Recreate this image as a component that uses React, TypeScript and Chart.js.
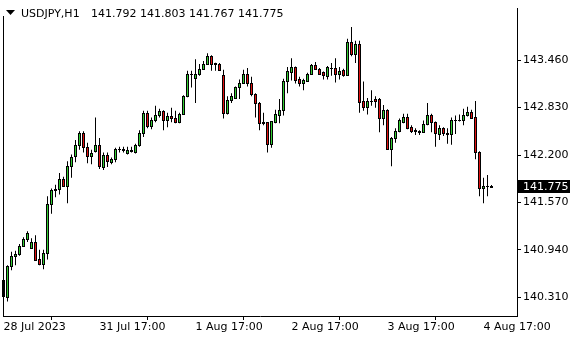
import React, { useEffect, useRef } from 'react';
import { Chart, registerables } from 'chart.js';

Chart.register(...registerables);

const symbol = 'USDJPY,H1';

const opens = [
  140.542, 140.310, 140.723, 140.865, 140.891, 140.994, 141.084, 140.968, 141.046, 140.826,
  140.749, 140.904, 141.549, 141.730, 141.743, 141.885, 141.794, 142.053, 142.182, 142.337,
  142.492, 142.311, 142.182, 142.259, 142.337, 142.040, 142.195, 142.104, 142.143, 142.282,
  142.272, 142.233, 142.259, 142.246, 142.337, 142.492, 142.763, 142.582, 142.672, 142.737,
  142.788, 142.659, 142.724, 142.698, 142.634, 142.750, 142.982, 143.279, 143.227, 143.279,
  143.344, 143.408, 143.511, 143.421, 143.408, 143.266, 142.763, 142.930, 142.956, 143.098,
  143.163, 143.279, 143.150, 143.008, 142.892, 142.634, 142.634, 142.350, 142.634, 142.737,
  142.801, 143.189, 143.305, 143.369, 143.214, 143.163, 143.189, 143.279, 143.395, 143.344,
  143.305, 143.253, 143.356, 143.356, 143.279, 143.331, 143.266, 143.705, 143.537, 143.679,
  142.918, 142.840, 142.918, 142.943, 142.943, 142.698, 142.801, 142.285, 142.427, 142.517,
  142.634, 142.711, 142.569, 142.530, 142.517, 142.504, 142.608, 142.737, 142.634, 142.479,
  142.556, 142.492, 142.479, 142.659, 142.672, 142.659, 142.737, 142.776, 142.711, 142.246,
  141.769, 141.794, 141.792,
];

const highs = [
  140.555, 140.736, 140.916, 140.929, 141.020, 141.110, 141.188, 141.097, 141.136, 140.942,
  140.942, 141.652, 141.756, 141.807, 141.962, 141.911, 142.117, 142.207, 142.401, 142.517,
  142.517, 142.362, 142.272, 142.698, 142.427, 142.233, 142.233, 142.169, 142.298, 142.311,
  142.311, 142.311, 142.311, 142.350, 142.530, 142.788, 142.788, 142.698, 142.853, 142.814,
  142.795, 142.763, 142.827, 142.788, 142.763, 142.995, 143.318, 143.318, 143.473, 143.408,
  143.447, 143.550, 143.524, 143.425, 143.421, 143.331, 142.982, 143.021, 143.111, 143.202,
  143.331, 143.356, 143.240, 143.021, 142.905, 142.763, 142.640, 142.652, 142.801, 142.943,
  143.214, 143.369, 143.486, 143.375, 143.240, 143.214, 143.292, 143.408, 143.434, 143.356,
  143.310, 143.382, 143.421, 143.486, 143.369, 143.344, 143.744, 143.899, 143.718, 143.718,
  143.176, 142.956, 143.060, 142.982, 142.956, 142.866, 142.808, 142.440, 142.556, 142.685,
  142.750, 142.750, 142.595, 142.556, 142.530, 142.659, 142.892, 142.750, 142.646, 142.595,
  142.569, 142.556, 142.698, 142.724, 142.737, 142.814, 142.840, 142.801, 142.918, 142.250,
  141.898, 141.936, 141.803,
];

const lows = [
  140.168, 140.258, 140.671, 140.736, 140.865, 140.981, 141.046, 140.955, 140.800, 140.736,
  140.684, 140.813, 141.420, 141.639, 141.678, 141.781, 141.562, 141.898, 142.104, 142.272,
  142.233, 142.091, 142.078, 142.233, 142.014, 142.001, 142.040, 142.078, 142.104, 142.233,
  142.233, 142.207, 142.233, 142.220, 142.311, 142.440, 142.556, 142.543, 142.634, 142.698,
  142.530, 142.569, 142.634, 142.621, 142.621, 142.737, 142.969, 143.098, 142.892, 143.253,
  143.331, 143.395, 143.318, 143.318, 143.325, 142.685, 142.737, 142.892, 142.950, 142.943,
  143.150, 143.111, 142.982, 142.698, 142.530, 142.595, 142.233, 142.298, 142.621, 142.621,
  142.724, 143.021, 143.189, 143.150, 143.111, 143.060, 143.176, 143.266, 143.331, 143.266,
  143.202, 143.202, 143.253, 143.163, 143.202, 143.240, 143.253, 143.511, 143.421, 142.763,
  142.788, 142.737, 142.853, 142.827, 142.504, 142.595, 142.272, 142.053, 142.362, 142.504,
  142.621, 142.543, 142.492, 142.466, 142.466, 142.492, 142.595, 142.504, 142.311, 142.401,
  142.453, 142.350, 142.337, 142.479, 142.646, 142.595, 142.711, 142.685, 142.143, 141.652,
  141.562, 141.652, 141.767,
];

const closes = [
  140.323, 140.723, 140.865, 140.891, 140.994, 141.084, 141.162, 141.046, 140.813, 140.749,
  140.904, 141.549, 141.730, 141.743, 141.885, 141.794, 142.053, 142.169, 142.337, 142.492,
  142.311, 142.182, 142.233, 142.337, 142.053, 142.195, 142.117, 142.143, 142.285, 142.287,
  142.275, 142.272, 142.272, 142.337, 142.492, 142.763, 142.582, 142.672, 142.737, 142.788,
  142.659, 142.724, 142.698, 142.634, 142.750, 142.982, 143.279, 143.272, 143.279, 143.344,
  143.408, 143.511, 143.408, 143.408, 143.331, 142.763, 142.930, 142.982, 143.098, 143.163,
  143.279, 143.150, 143.008, 142.892, 142.621, 142.621, 142.350, 142.646, 142.750, 142.801,
  143.189, 143.318, 143.369, 143.202, 143.163, 143.202, 143.279, 143.395, 143.344, 143.279,
  143.266, 143.369, 143.352, 143.279, 143.318, 143.266, 143.705, 143.537, 143.679, 142.905,
  142.840, 142.918, 142.922, 142.918, 142.698, 142.801, 142.285, 142.427, 142.517, 142.659,
  142.711, 142.556, 142.517, 142.520, 142.504, 142.608, 142.737, 142.634, 142.492, 142.556,
  142.492, 142.479, 142.659, 142.662, 142.659, 142.737, 142.776, 142.698, 142.246, 141.769,
  141.794, 141.792, 141.775,
];

const priceTicks = [140.31, 140.94, 141.57, 142.2, 142.83, 143.46];
const timeTickBars = [0, 24, 48, 72, 96, 120];
const timeTickLabels = ['28 Jul 2023', '31 Jul 17:00', '1 Aug 17:00', '2 Aug 17:00', '3 Aug 17:00', '4 Aug 17:00'];

const UP = '#32cd32';
const DOWN = '#e01010';
const FONT = '"DejaVu Sans", Verdana, sans-serif';

export default function App() {
  const ref = useRef<HTMLCanvasElement | null>(null);

  useEffect(() => {
    document.body.style.margin = '0';
    const canvas = ref.current;
    if (!canvas) return;
    const idx = closes.map((_, i) => i);
    const wickData = idx.map((i) => ({ x: i, y: [lows[i], highs[i]] }));
    const last = closes.length - 1;

    // candle bodies, placed with the chart's own x / y scales
    const bodies = {
      id: 'candleBodies',
      afterDatasetsDraw(chart: any) {
        const ctx = chart.ctx as CanvasRenderingContext2D;
        const xs = chart.scales.x;
        const ys = chart.scales.y;
        ctx.save();
        for (let i = 0; i < closes.length; i++) {
          const cx = Math.floor(xs.getPixelForValue(i));
          const top = Math.round(ys.getPixelForValue(Math.max(opens[i], closes[i])));
          const bot = Math.round(ys.getPixelForValue(Math.min(opens[i], closes[i])));
          const h = Math.max(1, bot - top + 1);
          ctx.fillStyle = '#000';
          ctx.fillRect(cx - 1, top, 3, h);
          if (h > 2) {
            ctx.fillStyle = closes[i] >= opens[i] ? UP : DOWN;
            ctx.fillRect(cx, top + 1, 1, h - 2);
          }
        }
        ctx.restore();
      },
    };

    const overlay = {
      id: 'mtOverlay',
      afterDraw(chart: any) {
        const ctx = chart.ctx as CanvasRenderingContext2D;
        const area = chart.chartArea;
        const ys = chart.scales.y;
        ctx.save();
        ctx.strokeStyle = '#000';
        ctx.lineWidth = 1;
        const lx = Math.floor(area.left) + 0.5;
        ctx.beginPath();
        ctx.moveTo(lx, 16);
        ctx.lineTo(lx, area.bottom);
        ctx.stroke();
        ctx.fillStyle = '#000';
        ctx.beginPath();
        ctx.moveTo(6, 10);
        ctx.lineTo(15, 10);
        ctx.lineTo(10.5, 15);
        ctx.closePath();
        ctx.fill();
        ctx.font = '11px ' + FONT;
        ctx.textBaseline = 'alphabetic';
        ctx.textAlign = 'left';
        ctx.fillText(symbol, 21, 17);
        const nums = [opens[last], highs[last], lows[last], closes[last]].map((v) => v.toFixed(3)).join(' ');
        ctx.fillText(nums, 91, 17);
        const py = Math.round(ys.getPixelForValue(closes[last]));
        const rx = Math.round(area.right) + 1;
        ctx.fillStyle = '#000';
        ctx.fillRect(rx, py - 7, 52, 13);
        ctx.fillStyle = '#fff';
        ctx.textBaseline = 'middle';
        ctx.fillText(closes[last].toFixed(3), rx + 5, py);
        ctx.restore();
      },
    };

    const chart = new Chart(canvas, {
      type: 'bar',
      data: {
        datasets: [
          {
            data: wickData as any,
            backgroundColor: '#000',
            borderWidth: 0,
            barThickness: 1,
            grouped: false,
            inflateAmount: 0,
          } as any,
        ],
      },
      options: {
        responsive: false,
        animation: false,
        devicePixelRatio: 1,
        layout: { padding: { left: 3, top: 0, right: 0, bottom: 0 } },
        plugins: { legend: { display: false }, tooltip: { enabled: false } },
        scales: {
          x: {
            type: 'linear',
            min: -0.125,
            max: 128.375,
            offset: false,
            grid: { display: true, drawOnChartArea: false, drawTicks: true, tickLength: 4, color: '#000' },
            border: { display: true, color: '#000', width: 1 },
            ticks: {
              autoSkip: false,
              maxRotation: 0,
              align: 'start',
              padding: 1,
              color: '#000',
              font: { family: FONT, size: 11 },
              callback: (v: any) => {
                const k = timeTickBars.indexOf(Number(v));
                return k >= 0 ? timeTickLabels[k] : '';
              },
            },
            afterBuildTicks: (scale: any) => {
              scale.ticks = timeTickBars.map((v) => ({ value: v }));
            },
            afterFit: (scale: any) => {
              scale.height = 24;
            },
          } as any,
          y: {
            type: 'linear',
            position: 'right',
            min: 140.064,
            max: 144.144,
            grid: { display: true, drawOnChartArea: false, drawTicks: true, tickLength: 4, color: '#000' },
            border: { display: true, color: '#000', width: 1 },
            ticks: {
              autoSkip: false,
              padding: 2,
              color: '#000',
              font: { family: FONT, size: 11 },
              callback: (v: any) => Number(v).toFixed(3),
            },
            afterBuildTicks: (scale: any) => {
              scale.ticks = priceTicks.map((v) => ({ value: v }));
            },
            afterFit: (scale: any) => {
              scale.width = 63;
            },
          } as any,
        },
      },
      plugins: [bodies, overlay],
    });

    const area = chart.chartArea;
    const w = area.right - area.left;
    const target = Math.floor(area.left) + 0.5;
    const xopt = (chart.options.scales as any).x;
    xopt.min = (area.left - target) / 4;
    xopt.max = xopt.min + w / 4;
    chart.update();

    return () => chart.destroy();
  }, []);

  return (
    <div style={{ width: 580, height: 340, background: '#fff' }}>
      <canvas ref={ref} width={580} height={340} style={{ display: 'block', width: 580, height: 340 }} />
    </div>
  );
}
